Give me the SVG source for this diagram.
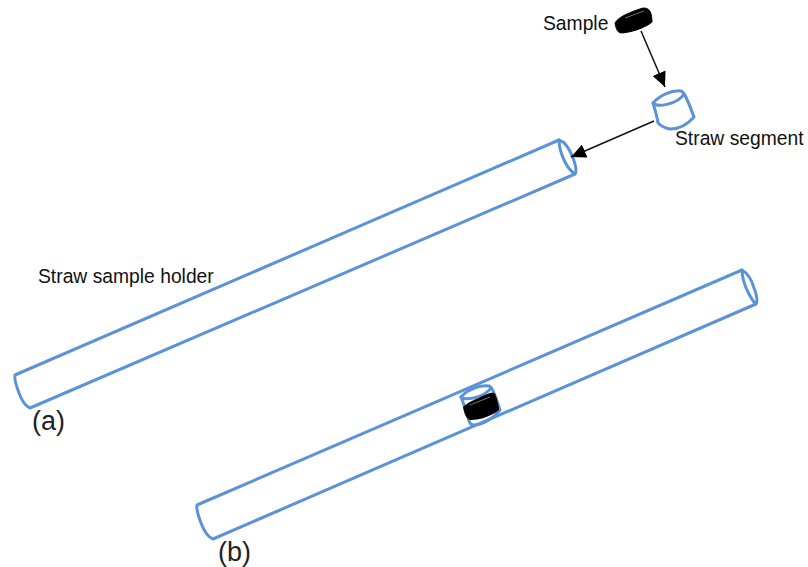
<svg xmlns="http://www.w3.org/2000/svg" width="808" height="567" viewBox="0 0 808 567">
<defs>
<marker id="ah" markerUnits="userSpaceOnUse" markerWidth="16" markerHeight="14" refX="15" refY="7" orient="auto"><path d="M0 0L15 7L0 14Z" fill="#000"/></marker>
</defs>
<style>
.s{fill:none;stroke:#5b92d8;stroke-width:3;stroke-linecap:round;stroke-linejoin:round}
.t{font-family:"Liberation Sans",Arial,sans-serif;font-size:19.3px;fill:#111}
.l{font-family:"Liberation Sans",Arial,sans-serif;font-size:27px;fill:#222}
.a{fill:none;stroke:#111;stroke-width:1.5;marker-end:url(#ah)}
</style>
<rect width="808" height="567" fill="#fff"/>
<g id="holder-a">
<path class="s" d="M15 375L559 140C566 142 570 150 573 158C576 166 577 171 575 174L30 408C25 406 22 401 19 393C16 385 14 380 15 375Z"/>
<path class="s" d="M559 140C559 146 561 154 565 162C568 168 572 172 575 174"/>
</g>
<g id="holder-b">
<path class="s" d="M197 505L742 270C749 274 752 281 754 288C757 296 758 301 756 304L213 539C208 537 204 531 201 523C198 515 196 510 197 505Z"/>
<path class="s" d="M742 270C742 278 745 286 748 292C751 298 753 302 756 304"/>
<path class="s" d="M461 397C468 389 480 385 489 386C492 387 494 392 500 410C492 420 481 425 474 425C471 425 470 424 469 421C467 413 465 407 461 397Z"/>
<path class="s" d="M461 397C464 401 484 398 491 388"/>
<path d="M463 407C466 403 480 397 490 393C494 392 495 393 496 396C498 402 499 406 499 410C492 416 480 420 471 420C467 420 464 414 463 407Z" fill="#000"/>
<path d="M470 405L490 397" stroke="#777" stroke-width="1" fill="none"/>
</g>
<g id="segment">
<path class="s" d="M653 103C660 95 672 90 681 91C684 92 687 98 694 117C688 124 680 129 670 129C665 128 661 126 658 123C657 116 655 110 653 103Z"/>
<path class="s" d="M653 103C657 108 678 104 684 94"/>
</g>
<g id="sample">
<path d="M615 23C618 17 630 12 643 8C648 8 650 10 651 14C652 18 652 21 652 22C645 28 632 32 622 33C617 33 616 28 615 23Z" fill="#000" stroke="#000" stroke-width="1" stroke-linejoin="round"/>
<path d="M625 18L644 11" stroke="#777" stroke-width="1" fill="none"/>
</g>
<g id="connectors">
<path class="a" d="M641 31L665 87"/>
<path class="a" d="M654 121L571 157"/>
</g>
<g id="labels">
<text class="t" x="543" y="30">Sample</text>
<text class="t" x="675" y="145">Straw segment</text>
<text class="t" x="38" y="283">Straw sample holder</text>
<text class="l" x="32" y="430">(a)</text>
<text class="l" x="218" y="561">(b)</text>
</g>
</svg>
